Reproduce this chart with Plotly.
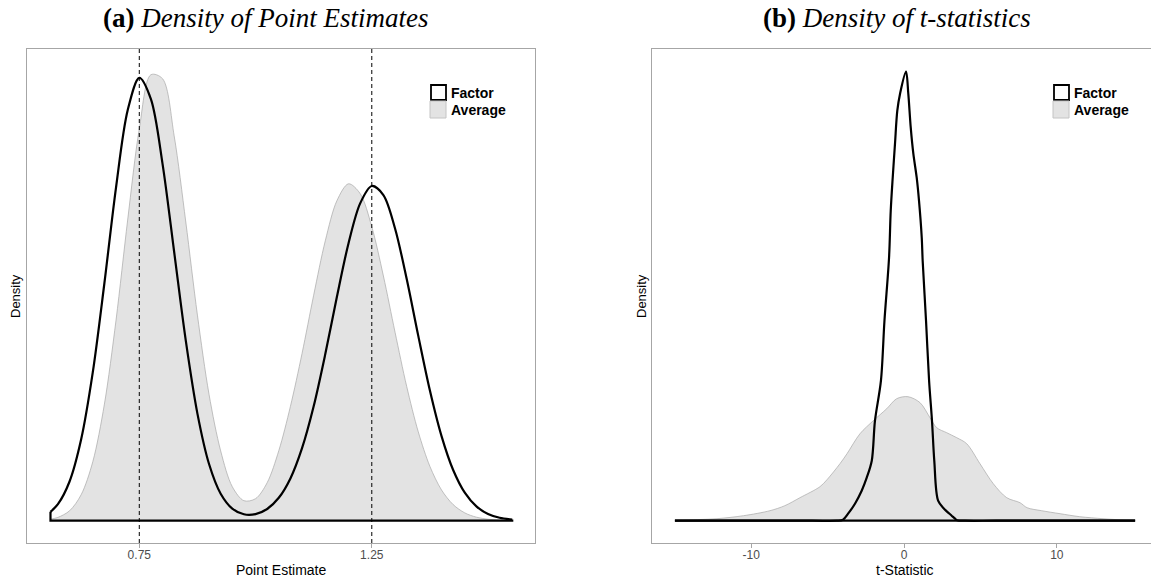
import plotly.graph_objects as go

W, H = 1151, 580

# ---------------- Panel (a): density of point estimates ----------------
pe_x = [0.559, 0.575, 0.600, 0.625, 0.650, 0.675, 0.700, 0.725, 0.750, 0.775,
        0.800, 0.825, 0.850, 0.875, 0.900, 0.925, 0.950, 0.975, 1.000, 1.025,
        1.050, 1.075, 1.100, 1.125, 1.150, 1.175, 1.200, 1.225, 1.250, 1.275,
        1.300, 1.325, 1.350, 1.375, 1.400, 1.425, 1.450, 1.475, 1.500, 1.525, 1.552]
pe_factor = [0.089, 0.165, 0.392, 0.814, 1.485, 2.377, 3.334, 4.104, 4.429, 4.216,
             3.569, 2.687, 1.800, 1.071, 0.567, 0.270, 0.121, 0.064, 0.066, 0.117,
             0.229, 0.423, 0.725, 1.144, 1.666, 2.239, 2.775, 3.173, 3.347, 3.256,
             2.922, 2.419, 1.848, 1.302, 0.846, 0.507, 0.280, 0.143, 0.067, 0.029, 0.011]
pe_average = [0.015, 0.033, 0.099, 0.260, 0.590, 1.166, 2.007, 3.007, 3.918, 4.460,
              4.420, 3.848, 2.987, 2.056, 1.263, 0.698, 0.340, 0.200, 0.220, 0.380,
              0.700, 1.143, 1.672, 2.255, 2.799, 3.200, 3.369, 3.271, 2.940, 2.447,
              1.885, 1.344, 0.888, 0.543, 0.307, 0.161, 0.078, 0.035, 0.015, 0.006, 0.002]
pe_ticks = [0.75, 1.25]
pe_ticklabels = ["0.75", "1.25"]
pe_ref_lines = [0.75, 1.25]

# ---------------- Panel (b): density of t-statistics ----------------
t_factor_x = [-14.99, -6.0, -4.4, -3.99, -3.66, -3.21, -2.77, -2.44, -2.11, -1.90,
              -1.51, -1.28, -0.98, -0.87, -0.74, -0.59, -0.44, -0.26, 0.13, 0.28,
              0.44, 0.61, 0.83, 0.98, 1.16, 1.22, 1.44, 1.64, 1.83, 1.98,
              2.23, 2.62, 3.12, 3.34, 3.47, 4.0, 6.0, 15.12]
t_factor_y = [0, 0, 0, 0.001, 0.007, 0.017, 0.030, 0.043, 0.060, 0.100,
              0.140, 0.200, 0.263, 0.310, 0.343, 0.377, 0.410, 0.427, 0.449, 0.427,
              0.393, 0.367, 0.343, 0.320, 0.283, 0.260, 0.200, 0.140, 0.100, 0.060,
              0.020, 0.012, 0.005, 0.002, 0.0005, 0, 0, 0]
t_average_x = [-14.99, -13.5, -12.24, -10.5, -8.77, -7.8, -6.81, -5.50, -5.04, -4.19,
               -3.73, -2.88, -2.01, -1.13, -0.48, 0.26, 1.05, 1.70, 2.14, 2.79,
               3.45, 4.10, 4.97, 5.84, 6.72, 7.59, 8.05, 9.0, 10.21, 11.5,
               13.02, 14.0, 15.12]
t_average_y = [0.0005, 0.0011, 0.002, 0.005, 0.010, 0.015, 0.023, 0.034, 0.041, 0.057,
               0.067, 0.087, 0.100, 0.112, 0.122, 0.124, 0.118, 0.103, 0.093, 0.088,
               0.083, 0.077, 0.057, 0.037, 0.023, 0.018, 0.013, 0.010, 0.007, 0.004,
               0.002, 0.001, 0.0005]
t_ticks = [-10, 0, 10]
t_ticklabels = ["-10", "0", "10"]

legend_labels = ["Factor", "Average"]
titles = [("(a)", "Density of Point Estimates"), ("(b)", "Density of t-statistics")]

# ---------------- styling ----------------
GREY_FILL = "#e3e3e3"
GREY_LINE = "#a8a8a8"
BORDER = "#a6a6a6"
SANS = "Liberation Sans"
SERIF = "Liberation Serif"


def px(x):
    return x / W


def py(y):
    return 1 - y / H


fig = go.Figure()


def add_panel(xs_f, ys_f, xs_a, ys_a, xa, ya):
    # Average: grey filled density
    fig.add_trace(go.Scatter(x=xs_a, y=ys_a, mode="lines", fill="tozeroy",
                             fillcolor=GREY_FILL,
                             line=dict(color=GREY_LINE, width=0.7, shape="spline", smoothing=0.9),
                             xaxis=xa, yaxis=ya, showlegend=False, hoverinfo="skip"))
    # Factor: black outline density
    fig.add_trace(go.Scatter(x=xs_f, y=ys_f, mode="lines",
                             line=dict(color="black", width=2.2, shape="spline", smoothing=0.9),
                             xaxis=xa, yaxis=ya, showlegend=False, hoverinfo="skip"))
    # baseline / end edges of the Factor polygon
    fig.add_trace(go.Scatter(x=[xs_f[0], xs_f[0], xs_f[-1], xs_f[-1]],
                             y=[ys_f[0], 0, 0, ys_f[-1]], mode="lines",
                             line=dict(color="black", width=2.2),
                             xaxis=xa, yaxis=ya, showlegend=False, hoverinfo="skip"))


add_panel(pe_x, pe_factor, pe_x, pe_average, "x", "y")
add_panel(t_factor_x, t_factor_y, t_average_x, t_average_y, "x2", "y2")

# Plot boxes in pixels
L_X0, L_X1 = 27, 535
R_X0, R_X1 = 652, 1151
Y0, Y1 = 49, 543
ydom = [py(Y1), py(Y0)]

axis_common = dict(showgrid=False, zeroline=False, showline=True, linecolor=BORDER,
                   linewidth=1, ticks="outside", ticklen=4, tickcolor=BORDER,
                   ticklabelstandoff=-3,
                   tickfont=dict(family=SANS, size=12, color="#4d4d4d"))

fig.update_layout(
    width=W, height=H, margin=dict(l=0, r=0, t=0, b=0),
    paper_bgcolor="white", plot_bgcolor="white", showlegend=False,
    xaxis=dict(domain=[px(L_X0), px(L_X1)], range=[0.5085, 1.601], anchor="y",
               tickvals=pe_ticks, ticktext=pe_ticklabels, mirror=True, **axis_common),
    yaxis=dict(domain=ydom, range=[-0.223, 4.717], anchor="x", showgrid=False,
               zeroline=False, showline=True, mirror=True, linecolor=BORDER,
               showticklabels=False, ticks=""),
    xaxis2=dict(domain=[px(R_X0), 1.0], range=[-16.49, 16.16], anchor="y2",
                tickvals=t_ticks, ticktext=t_ticklabels, mirror=True, **axis_common),
    yaxis2=dict(domain=ydom, range=[-0.0223, 0.4717], anchor="x2", showgrid=False,
                zeroline=False, showline=True, mirror=False, linecolor=BORDER,
                showticklabels=False, ticks=""),
)

shapes = []
for v in pe_ref_lines:
    shapes.append(dict(type="line", xref="x", yref="y domain", x0=v, x1=v, y0=0, y1=1,
                       line=dict(color="black", width=1, dash="4px,3px")))

annotations = []
# legends
for (kx, tx, ky) in [(430, 449, 84), (1053, 1072, 84)]:
    shapes.append(dict(type="rect", xref="paper", yref="paper",
                       x0=px(kx + 1), x1=px(kx + 16), y0=py(ky + 16), y1=py(ky + 1),
                       line=dict(color="black", width=1.8), fillcolor="white"))
    shapes.append(dict(type="rect", xref="paper", yref="paper",
                       x0=px(kx), x1=px(kx + 16), y0=py(ky + 34), y1=py(ky + 17),
                       line=dict(color="#c4c4c4", width=1), fillcolor=GREY_FILL))
    for i, lab in enumerate(legend_labels):
        annotations.append(dict(xref="paper", yref="paper", x=px(tx), y=py(ky + 9 + 17 * i),
                                text="<b>%s</b>" % lab, showarrow=False, xanchor="left",
                                yanchor="middle",
                                font=dict(family=SANS, size=14, color="black")))

# titles
for (cx, (lab, ttl)) in zip([265, 897], titles):
    annotations.append(dict(xref="paper", yref="paper", x=px(cx), y=py(18),
                            text="<b>%s</b> <i>%s</i>" % (lab, ttl), showarrow=False,
                            xanchor="center", yanchor="middle",
                            font=dict(family=SERIF, size=27, color="black")))

# axis titles
for (cx, txt) in [(281, "Point Estimate"), (905, "t-Statistic")]:
    annotations.append(dict(xref="paper", yref="paper", x=px(cx), y=py(570), text=txt,
                            showarrow=False, xanchor="center", yanchor="middle",
                            font=dict(family=SANS, size=14, color="black")))
for cx in [15, 641]:
    annotations.append(dict(xref="paper", yref="paper", x=px(cx), y=py(296), text="Density",
                            showarrow=False, xanchor="center", yanchor="middle", textangle=-90,
                            font=dict(family=SANS, size=13, color="black")))

fig.update_layout(shapes=shapes, annotations=annotations)
fig.write_html("out.html", config={"displayModeBar": False},
               post_script="document.body.style.margin='0';document.body.style.padding='0';")
